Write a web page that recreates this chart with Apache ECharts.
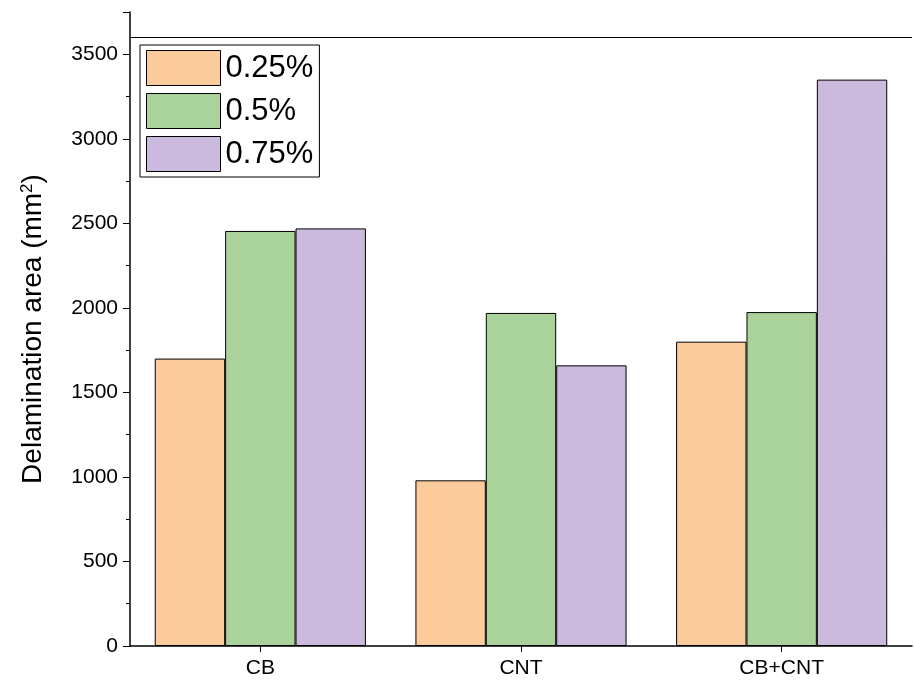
<!DOCTYPE html>
<html>
<head>
<meta charset="utf-8">
<script src="https://cdn.jsdelivr.net/npm/echarts@6/dist/echarts.min.js"></script>
<style>html,body{margin:0;padding:0;background:#fff}#main{width:914px;height:691px}</style>
</head>
<body>
<div id="main"></div>
<script>
var categories = ['CB', 'CNT', 'CB+CNT'];
var seriesNames = ['0.25%', '0.5%', '0.75%'];
var values025 = [1700, 980, 1800];
var values05 = [2455, 1970, 1975];
var values075 = [2470, 1660, 3350];
var colors = ['#fccb9c', '#a9d39a', '#cbb9de'];

var chart = echarts.init(document.getElementById('main'));
var font = 'Arial, "Liberation Sans", sans-serif';
var dataSets = [values025, values05, values075];
var series = [];
for (var i = 0; i < seriesNames.length; i++) {
    series.push({
        name: seriesNames[i],
        type: 'bar',
        data: dataSets[i],
        barGap: '0%',
        barCategoryGap: '19%',
        itemStyle: { color: colors[i], borderColor: '#000', borderWidth: 1 }
    });
}
// thin reference line near the top of the plot
series[0].markLine = {
    symbol: 'none', silent: true, label: { show: false },
    lineStyle: { color: '#000', width: 1, type: 'solid' },
    data: [{ yAxis: 3600 }]
};
var option = {
    animation: false,
    grid: { left: 130, right: 2, top: 12, bottom: 45 },
    legend: {
        left: 140, top: 45,
        orient: 'vertical',
        icon: 'rect',
        itemWidth: 74, itemHeight: 35, itemGap: 7,
        padding: [5, 6, 5, 6],
        borderColor: '#000', borderWidth: 1,
        textStyle: { fontSize: 31, fontFamily: font, color: '#000' },
        itemStyle: { borderColor: '#000', borderWidth: 1 },
        data: seriesNames
    },
    xAxis: {
        type: 'category',
        data: categories,
        axisLine: { lineStyle: { color: '#000', width: 1.5 } },
        axisTick: { show: true, alignWithLabel: true, length: 6, lineStyle: { color: '#000' } },
        axisLabel: { fontSize: 21, color: '#000', fontFamily: font, margin: 12 }
    },
    yAxis: {
        type: 'value',
        min: 0, max: 3750, interval: 500,
        name: '{a|Delamination area (mm}{s|2}{a|)}',
        nameLocation: 'middle',
        nameGap: 82,
        nameTextStyle: {
            rich: {
                a: { fontSize: 28, color: '#000', fontFamily: font },
                s: { fontSize: 17, color: '#000', fontFamily: font, verticalAlign: 'top', padding: [0, 0, 12, 0] }
            }
        },
        axisLine: { show: true, lineStyle: { color: '#000', width: 1.5 } },
        axisTick: { show: true, length: 7, lineStyle: { color: '#000' } },
        minorTick: { show: true, splitNumber: 2, length: 4, lineStyle: { color: '#000' } },
        splitLine: { show: false },
        axisLabel: { fontSize: 21, color: '#000', fontFamily: font, margin: 12,
            showMaxLabel: false,
            formatter: function (v) { return v > 3500 ? '' : String(v); } }
    },
    series: series
};
chart.setOption(option);
</script>
</body>
</html>
